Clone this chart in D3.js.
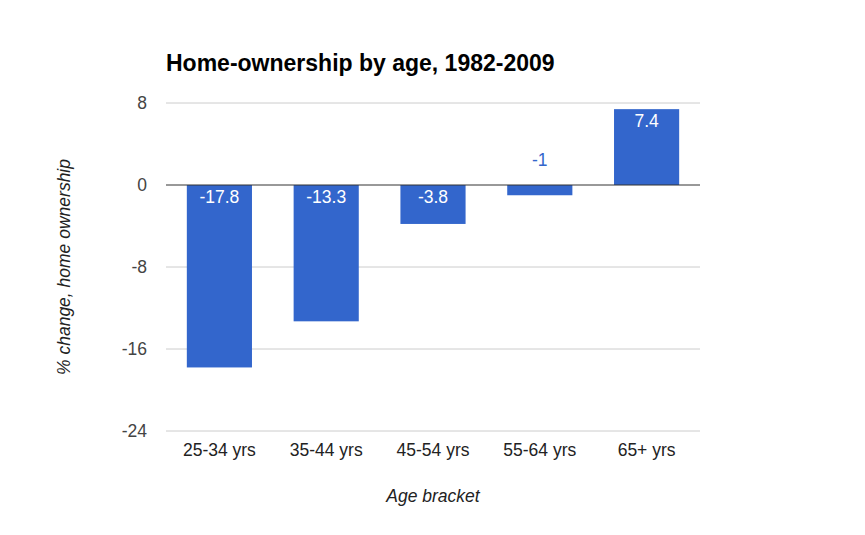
<!DOCTYPE html>
<html><head><meta charset="utf-8">
<script src="https://cdn.jsdelivr.net/npm/d3@7"></script>
<style>body{margin:0;background:#fff;} text{font-family:Arial,"Liberation Sans",sans-serif;}</style>
</head><body>
<svg id="c" width="865" height="535"></svg>
<script>
const categories = ["25-34 yrs","35-44 yrs","45-54 yrs","55-64 yrs","65+ yrs"];
const values = [-17.8,-13.3,-3.8,-1,7.4];
const yTicks = [-24,-16,-8,0,8];
const title = "Home-ownership by age, 1982-2009";
const xTitle = "Age bracket";
const yTitle = "% change, home ownership";

(function(){
const svg = d3.select("#c");
const pL = 166, pR = 700, pT = 103, pB = 431;
const fs = 17.5;
const x = d3.scaleBand().domain(categories).range([pL,pR]).paddingInner(0.39).paddingOuter(0.195);
const y = d3.scaleLinear().domain([-24,8]).range([pB,pT]);

svg.append("text").attr("x",166).attr("y",71).attr("font-size",23).attr("font-weight","bold").attr("fill","#000").text(title);

svg.append("g").selectAll("line").data(yTicks.filter(d=>d!==0)).join("line")
  .attr("x1",pL).attr("x2",pR).attr("y1",d=>y(d)).attr("y2",d=>y(d))
  .attr("stroke","#cccccc").attr("stroke-width",1);

svg.append("g").selectAll("text").data(yTicks).join("text")
  .attr("x",147).attr("y",d=>y(d)+6).attr("text-anchor","end")
  .attr("font-size",fs).attr("fill","#444").text(d=>d);

svg.append("g").selectAll("rect").data(values).join("rect")
  .attr("x",(d,i)=>x(categories[i])).attr("width",x.bandwidth())
  .attr("y",d=>y(Math.max(0,d))).attr("height",d=>Math.abs(y(d)-y(0)))
  .attr("fill","#3366cc");

svg.append("line").attr("x1",pL).attr("x2",pR).attr("y1",y(0)).attr("y2",y(0))
  .attr("stroke","#333").attr("stroke-width",1);

svg.append("g").selectAll("text").data(values).join("text")
  .attr("x",(d,i)=>x(categories[i])+x.bandwidth()/2)
  .attr("y",d=>{
    const h = Math.abs(y(d)-y(0));
    if (h < 20) return y(0) - 19;
    return d>=0 ? y(d)+18 : y(0)+18;
  })
  .attr("text-anchor","middle").attr("font-size",fs)
  .attr("fill",d=>Math.abs(y(d)-y(0))<20 ? "#3366cc" : "#fff")
  .text(d=>d);

svg.append("g").selectAll("text").data(categories).join("text")
  .attr("x",d=>x(d)+x.bandwidth()/2).attr("y",456).attr("text-anchor","middle")
  .attr("font-size",fs).attr("fill","#222").text(d=>d);

svg.append("text").attr("x",433).attr("y",502).attr("text-anchor","middle")
  .attr("font-size",fs).attr("font-style","italic").attr("fill","#222").text(xTitle);

svg.append("text").attr("transform","translate(70,267) rotate(-90)").attr("text-anchor","middle")
  .attr("font-size",fs).attr("font-style","italic").attr("fill","#222").text(yTitle);
})();
</script>
</body></html>
